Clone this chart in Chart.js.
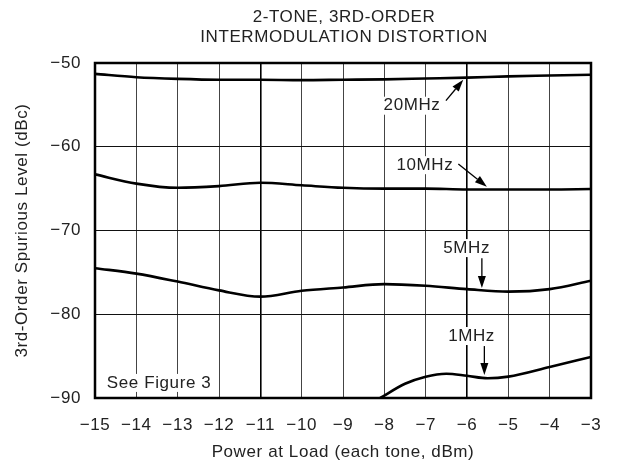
<!DOCTYPE html>
<html><head><meta charset="utf-8">
<script src="https://cdn.jsdelivr.net/npm/chart.js@4.4.0/dist/chart.umd.min.js"></script>
<style>html,body{margin:0;padding:0;background:#fff}</style></head>
<body><canvas id="c" width="619" height="468"></canvas>
<script>
// ---- data ----
const powerX   = [-15,-14,-13,-12,-11,-10,-9,-8,-7,-6,-5,-4,-3];
const imd20MHz = [-51.3,-51.7,-51.9,-52.0,-52.0,-52.05,-52.0,-51.95,-51.85,-51.75,-51.6,-51.5,-51.4];
const imd10MHz = [-63.3,-64.4,-64.9,-64.7,-64.3,-64.6,-64.9,-65.0,-65.0,-65.1,-65.1,-65.1,-65.05];
const imd5MHz  = [-74.5,-75.15,-76.1,-77.15,-77.9,-77.2,-76.8,-76.4,-76.6,-77.0,-77.3,-77.0,-76.0];
const power1MHz = [-8.1,-7.5,-7,-6.5,-6,-5.5,-5,-4,-3];
const imd1MHz   = [-90,-88.3,-87.45,-87.1,-87.35,-87.65,-87.45,-86.3,-85.1];
const xTickValues = [-15,-14,-13,-12,-11,-10,-9,-8,-7,-6,-5,-4,-3];
const yTickValues = [-50,-60,-70,-80,-90];
const titleLines = ['2-TONE, 3RD-ORDER','INTERMODULATION DISTORTION'];
const xTitle = 'Power at Load (each tone, dBm)';
const yTitle = '3rd-Order Spurious Level (dBc)';
// annotations: text, label position (data units), arrow tail -> head (data units)
const annotations = [
  {text:'20MHz', x:-7.33, y:-55.1, arrow:[-6.51,-54.5,-6.09,-52.0]},
  {text:'10MHz', x:-7.02, y:-62.2, arrow:[-6.21,-62.06,-5.52,-64.77]},
  {text:'5MHz',  x:-6.01, y:-72.1, arrow:[-5.64,-73.3,-5.64,-76.87]},
  {text:'1MHz',  x:-5.89, y:-82.6, arrow:[-5.58,-83.8,-5.58,-87.25]},
  {text:'See Figure 3', x:-13.45, y:-88.2, arrow:null}
];

const FONT = '"Liberation Sans", Arial, Helvetica, sans-serif';
const FS = 17;
const LS = '0.6px';
const minus = v => String(v).replace('-', '\u2212');
const pts = (xs, ys) => xs.map((x,i)=>({x, y: ys[i]}));

const lineStyle = {borderColor:'#000', borderWidth:2.6, pointRadius:0, fill:false, cubicInterpolationMode:'monotone'};

const annotPlugin = {
  id:'annot',
  beforeUpdate(chart){ chart.ctx.letterSpacing = LS; },
  beforeDraw(chart){ chart.ctx.letterSpacing = LS; },
  beforeDatasetsDraw(chart){
    const {ctx, scales:{x,y}} = chart;
    ctx.save();
    ctx.letterSpacing = LS;
    ctx.font = FS + 'px ' + FONT;
    ctx.textAlign = 'center';
    ctx.textBaseline = 'middle';
    annotations.forEach(a=>{
      const px = x.getPixelForValue(a.x), py = y.getPixelForValue(a.y);
      const w = ctx.measureText(a.text).width;
      ctx.fillStyle = '#fff';
      ctx.fillRect(px - w/2 - 2, py - 9, w + 4, 18);
      ctx.fillStyle = '#222';
      ctx.fillText(a.text, px, py);
    });
    ctx.restore();
  },
  afterDatasetsDraw(chart){
    const {ctx, scales:{x,y}, chartArea:ca} = chart;
    ctx.save();
    annotations.forEach(a=>{
      if(!a.arrow) return;
      const x0 = x.getPixelForValue(a.arrow[0]), y0 = y.getPixelForValue(a.arrow[1]);
      const x1 = x.getPixelForValue(a.arrow[2]), y1 = y.getPixelForValue(a.arrow[3]);
      const ang = Math.atan2(y1-y0, x1-x0);
      const hl = 12, hw = 4;
      const bx = x1 - hl*Math.cos(ang), by = y1 - hl*Math.sin(ang);
      ctx.strokeStyle = '#000'; ctx.lineWidth = 1.3;
      ctx.beginPath(); ctx.moveTo(x0,y0); ctx.lineTo(bx,by); ctx.stroke();
      ctx.fillStyle = '#000';
      ctx.beginPath();
      ctx.moveTo(x1,y1);
      ctx.lineTo(bx + hw*Math.sin(ang), by - hw*Math.cos(ang));
      ctx.lineTo(bx - hw*Math.sin(ang), by + hw*Math.cos(ang));
      ctx.closePath(); ctx.fill();
    });
    // frame
    ctx.strokeStyle = '#000'; ctx.lineWidth = 2.5;
    ctx.strokeRect(ca.left, ca.top, ca.right-ca.left, ca.bottom-ca.top);
    // title
    ctx.letterSpacing = LS;
    ctx.fillStyle = '#222';
    ctx.font = FS + 'px ' + FONT;
    ctx.textAlign = 'center'; ctx.textBaseline = 'middle';
    ctx.fillText(titleLines[0], 344, 17);
    ctx.fillText(titleLines[1], 344, 37);
    ctx.restore();
  }
};

new Chart(document.getElementById('c'), {
  type:'line',
  data:{datasets:[
    Object.assign({label:'20MHz', data:pts(powerX, imd20MHz)}, lineStyle),
    Object.assign({label:'10MHz', data:pts(powerX, imd10MHz)}, lineStyle),
    Object.assign({label:'5MHz',  data:pts(powerX, imd5MHz)}, lineStyle),
    Object.assign({label:'1MHz',  data:pts(power1MHz, imd1MHz)}, lineStyle)
  ]},
  options:{
    responsive:false, animation:false, devicePixelRatio:1,
    layout:{padding:{top:63, right:28, left:0, bottom:0}},
    plugins:{legend:{display:false}, title:{display:false}, tooltip:{enabled:false}},
    scales:{
      x:{
        type:'linear', min:-15, max:-3,
        afterFit(s){ s.height = 70; },
        afterBuildTicks(s){ s.ticks = xTickValues.map(v=>({value:v})); },
        grid:{drawTicks:false,
          color:c=> (c.tick && (c.tick.value===-11 || c.tick.value===-6)) ? '#000' : '#444',
          lineWidth:c=> (c.tick && (c.tick.value===-11 || c.tick.value===-6)) ? 1.6 : 1},
        border:{display:false},
        ticks:{padding:17, color:'#222', font:{family:FONT, size:FS}, maxRotation:0, autoSkip:false,
          callback:v=>minus(v)},
        title:{display:true, text:xTitle, color:'#222', font:{family:FONT, size:FS}, padding:{top:0,bottom:5.5}}
      },
      y:{
        type:'linear', min:-90, max:-50,
        afterFit(s){ s.width = 95; },
        afterBuildTicks(s){ s.ticks = yTickValues.map(v=>({value:v})); },
        grid:{drawTicks:false, color:'#111', lineWidth:1},
        border:{display:false},
        ticks:{padding:14, color:'#222', font:{family:FONT, size:FS}, callback:v=>minus(v)},
        title:{display:true, text:yTitle, color:'#222', font:{family:FONT, size:FS}, padding:{top:12.5,bottom:0}}
      }
    }
  },
  plugins:[annotPlugin]
});
</script>
</body></html>
